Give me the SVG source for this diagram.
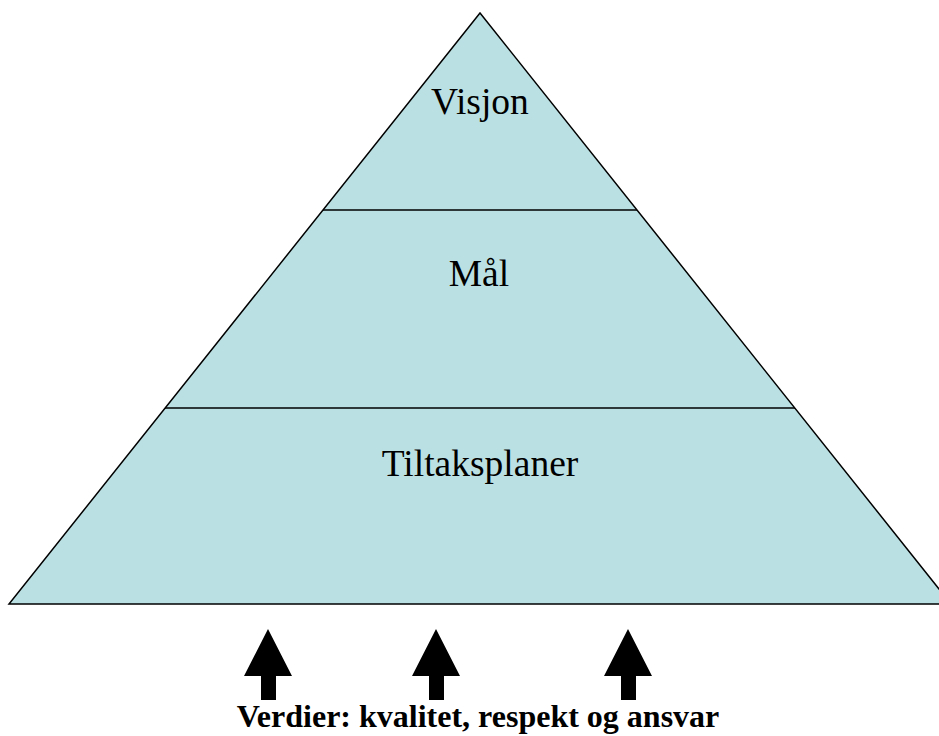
<svg xmlns="http://www.w3.org/2000/svg" width="939" height="736" viewBox="0 0 939 736">
<style>
.lvl{fill:#BBE0E3;stroke:none}
.edge{fill:none;stroke:#000;stroke-width:1.5}
.lbl{font-family:"Liberation Serif","Times New Roman",serif;font-size:37.5px;fill:#000;text-anchor:middle}
.val{font-family:"Liberation Serif","Times New Roman",serif;font-size:32px;font-weight:bold;fill:#000;text-anchor:middle}
.arr{fill:#000}
</style>
<defs>
<path id="arrow" d="M0,-71 L24,-24 L8,-24 L8,0 L-7,0 L-7,-24 L-24,-24 Z"/>
</defs>
<g id="pyramid">
<polygon class="lvl" points="480,13 9,604 951,604"/>
<polygon class="edge" points="480,13 9,604 951,604"/>
</g>
<g id="connectors">
<line class="edge" x1="323" y1="210" x2="637" y2="210"/>
<line class="edge" x1="165" y1="408" x2="795" y2="408"/>
</g>
<g id="visjon"><text class="lbl" x="480" y="114">Visjon</text></g>
<g id="maal"><text class="lbl" x="479" y="286">Mål</text></g>
<g id="tiltak"><text class="lbl" x="480" y="476">Tiltaksplaner</text></g>
<g id="arrows">
<use href="#arrow" class="arr" x="268" y="700"/>
<use href="#arrow" class="arr" x="436" y="700"/>
<use href="#arrow" class="arr" x="628" y="700"/>
</g>
<g id="verdier"><text class="val" x="478" y="727">Verdier: kvalitet, respekt og ansvar</text></g>
</svg>
